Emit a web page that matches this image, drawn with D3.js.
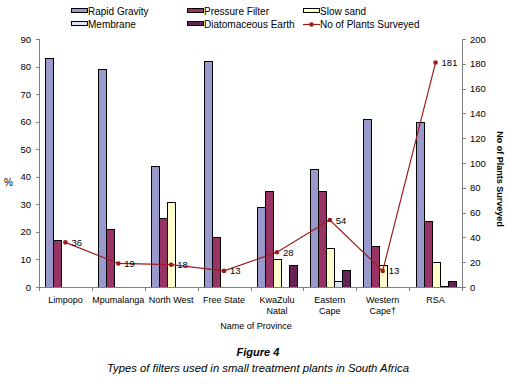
<!DOCTYPE html>
<html>
<head>
<meta charset="utf-8">
<script src="https://cdn.jsdelivr.net/npm/d3@7"></script>
<style>
  body { margin: 0; background: #fff; }
  text { font-family: "Liberation Sans", Arial, sans-serif; fill: #000; }
</style>
</head>
<body>
<div id="chart"></div>
<script>
var provinces = [["Limpopo"], ["Mpumalanga"], ["North West"], ["Free State"],
    ["KwaZulu", "Natal"], ["Eastern", "Cape"], ["Western", "Cape\u2020"], ["RSA"]];
var seriesNames = ["Rapid Gravity", "Pressure Filter", "Slow sand", "Membrane", "Diatomaceous Earth"];
var seriesColors = ["#9999cc", "#993366", "#ffffcc", "#dde4f6", "#662255"];
var rapidGravity = [83, 79, 44, 82, 29, 43, 61, 60];
var pressureFilter = [17, 21, 25, 18, 35, 35, 15, 24];
var slowSand = [0, 0, 31, 0, 10, 14, 8, 9];
var membrane = [0, 0, 0, 0, 0, 2, 0, 0.4];
var diatomaceous = [0, 0, 0, 0, 8, 6, 0, 2];
var plantsSurveyed = [36, 19, 18, 13, 28, 54, 13, 181];
var pctTicks = d3.range(0, 91, 10);
var countTicks = d3.range(0, 201, 20);

var series = [rapidGravity, pressureFilter, slowSand, membrane, diatomaceous];

var width = 508, height = 384;
var plotLeft = 39, plotRight = 462, plotTop = 39, plotBottom = 287;

var svg = d3.select("#chart").append("svg")
    .attr("width", width)
    .attr("height", height);

var x = d3.scaleBand()
    .domain(d3.range(provinces.length))
    .range([plotLeft, plotRight]);

var xInner = d3.scaleBand()
    .domain(d3.range(series.length))
    .range([0, 40]);

var yPct = d3.scaleLinear().domain([0, 90]).range([plotBottom, plotTop]);
var yCount = d3.scaleLinear().domain([0, 200]).range([plotBottom, plotTop]);

// bars (zero values are not drawn)
series.forEach(function (vals, s) {
    var pts = vals.map(function (v, i) { return { v: v, i: i }; })
        .filter(function (d) { return d.v > 0; });
    svg.append("g").selectAll("rect")
        .data(pts)
        .join("rect")
        .attr("x", function (d) { return Math.round(x(d.i) + (x.bandwidth() - 40) / 2 + xInner(s)) + 0.5; })
        .attr("y", function (d) { return Math.round(yPct(d.v)) + 0.5; })
        .attr("width", xInner.bandwidth())
        .attr("height", function (d) { return Math.max(0, plotBottom - Math.round(yPct(d.v))); })
        .attr("fill", seriesColors[s])
        .attr("stroke", "#000")
        .attr("stroke-width", 1);
});

// left axis
var axisColor = "#808080";
svg.append("line").attr("x1", plotLeft + 0.5).attr("x2", plotLeft + 0.5)
    .attr("y1", plotTop).attr("y2", plotBottom).attr("stroke", axisColor);
pctTicks.forEach(function (t) {
    svg.append("line").attr("x1", plotLeft - 3).attr("x2", plotLeft)
        .attr("y1", Math.round(yPct(t)) + 0.5).attr("y2", Math.round(yPct(t)) + 0.5)
        .attr("stroke", axisColor);
    svg.append("text").attr("x", plotLeft - 8).attr("y", yPct(t) + 3.5)
        .attr("text-anchor", "end").style("font-size", "9.5px").text(t);
});

// right axis
svg.append("line").attr("x1", plotRight + 0.5).attr("x2", plotRight + 0.5)
    .attr("y1", plotTop).attr("y2", plotBottom).attr("stroke", axisColor);
countTicks.forEach(function (t) {
    svg.append("line").attr("x1", plotRight).attr("x2", plotRight + 4)
        .attr("y1", Math.round(yCount(t)) + 0.5).attr("y2", Math.round(yCount(t)) + 0.5)
        .attr("stroke", axisColor);
    svg.append("text").attr("x", plotRight + 8).attr("y", yCount(t) + 3.5)
        .attr("text-anchor", "start").style("font-size", "9.5px").text(t);
});

// bottom axis
svg.append("line").attr("x1", plotLeft).attr("x2", plotRight + 1)
    .attr("y1", plotBottom + 0.5).attr("y2", plotBottom + 0.5).attr("stroke", axisColor);
d3.range(provinces.length + 1).forEach(function (i) {
    var xx = Math.round(plotLeft + i * x.step()) + 0.5;
    svg.append("line").attr("x1", xx).attr("x2", xx)
        .attr("y1", plotBottom).attr("y2", plotBottom + 4).attr("stroke", axisColor);
});

svg.append("g").selectAll("text")
    .data(provinces)
    .join("text")
    .attr("x", function (d, i) { return x(i) + x.bandwidth() / 2; })
    .attr("y", 303)
    .attr("text-anchor", "middle")
    .style("font-size", "9px")
    .each(function (d) {
        var t = d3.select(this);
        d.forEach(function (line, j) {
            t.append("tspan").attr("x", t.attr("x")).attr("dy", j === 0 ? 0 : 11).text(line);
        });
    });

// line series
var lineColor = "#9b1c1c";
var line = d3.line()
    .x(function (d, i) { return x(i) + x.bandwidth() / 2; })
    .y(function (d) { return yCount(d); });

svg.append("path")
    .datum(plantsSurveyed)
    .attr("d", line)
    .attr("fill", "none")
    .attr("stroke", lineColor)
    .attr("stroke-width", 1.2);

svg.append("g").selectAll("circle")
    .data(plantsSurveyed)
    .join("circle")
    .attr("cx", function (d, i) { return x(i) + x.bandwidth() / 2; })
    .attr("cy", function (d) { return yCount(d); })
    .attr("r", 2.3)
    .attr("fill", lineColor);

svg.append("g").selectAll("text")
    .data(plantsSurveyed)
    .join("text")
    .attr("x", function (d, i) { return x(i) + x.bandwidth() / 2 + 6; })
    .attr("y", function (d) { return yCount(d) + 3.5; })
    .style("font-size", "9.5px")
    .text(function (d) { return d; });

// axis titles
svg.append("text").attr("x", 4).attr("y", 186)
    .style("font-size", "10px").text("%");
svg.append("text")
    .attr("transform", "translate(497,179) rotate(90)")
    .attr("text-anchor", "middle")
    .style("font-size", "9px").style("font-weight", "bold")
    .text("No of Plants Surveyed");
svg.append("text").attr("x", 256).attr("y", 329)
    .attr("text-anchor", "middle").style("font-size", "9px")
    .text("Name of Province");

// caption
svg.append("text").attr("x", 258).attr("y", 356)
    .attr("text-anchor", "middle").style("font-size", "11px")
    .style("font-style", "italic").style("font-weight", "bold")
    .text("Figure 4");
svg.append("text").attr("x", 258).attr("y", 372)
    .attr("text-anchor", "middle").style("font-size", "11.3px")
    .style("font-style", "italic")
    .text("Types of filters used in small treatment plants in South Africa");

// legend
var legendItems = seriesNames.concat(["No of Plants Surveyed"]);
var legendPos = [[71, 11], [187, 11], [303, 11], [71, 24], [187, 24], [303, 24]];
legendItems.forEach(function (name, i) {
    var p = legendPos[i];
    if (i < seriesNames.length) {
        svg.append("rect").attr("x", p[0] + 0.5).attr("y", p[1] - 2.5)
            .attr("width", 16).attr("height", 4)
            .attr("fill", seriesColors[i]).attr("stroke", "#000");
    } else {
        svg.append("line").attr("x1", p[0]).attr("x2", p[0] + 17)
            .attr("y1", p[1] + 0.5).attr("y2", p[1] + 0.5)
            .attr("stroke", lineColor).attr("stroke-width", 1.2);
        svg.append("circle").attr("cx", p[0] + 8.5).attr("cy", p[1] + 0.5)
            .attr("r", 2.3).attr("fill", lineColor);
    }
    svg.append("text").attr("x", p[0] + 17).attr("y", p[1] + 3.5)
        .style("font-size", "10px").text(name);
});
</script>
</body>
</html>
